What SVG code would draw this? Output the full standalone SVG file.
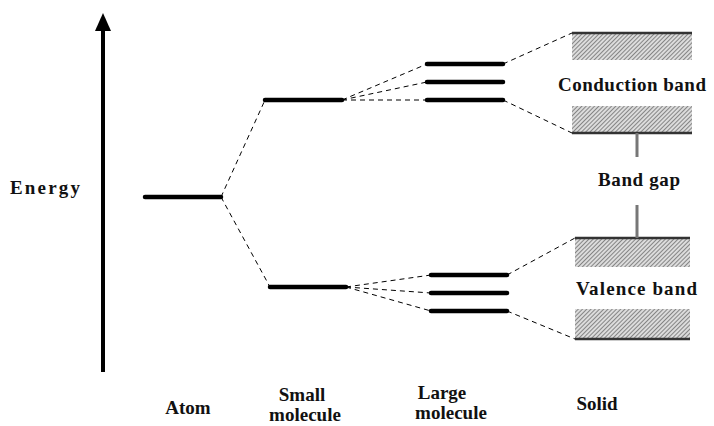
<svg xmlns="http://www.w3.org/2000/svg" width="714" height="426" viewBox="0 0 714 426">
<defs>
<pattern id="hatch" width="3" height="3" patternUnits="userSpaceOnUse" patternTransform="rotate(45)">
<rect width="3" height="3" fill="#dcdcdc"/>
<line x1="0" y1="0" x2="0" y2="3" stroke="#606060" stroke-width="1.4"/>
</pattern>
</defs>
<style>
.lvl{stroke:#000;stroke-width:4.5;stroke-linecap:round}
.d{stroke:#000;stroke-width:1;stroke-dasharray:5,4;fill:none}
.band{fill:url(#hatch)}
.edge{stroke:#333;stroke-width:2.5}
.gap{stroke:#777;stroke-width:3}
</style>
<rect width="714" height="426" fill="#fff"/>
<g font-family="Liberation Serif" font-weight="bold" font-size="19" fill="#111">
<g id="axis">
<line x1="103" y1="372" x2="103" y2="28" stroke="#000" stroke-width="4"/>
<polygon points="103,13 95,31 111,31" fill="#000"/>
<text x="10" y="194" textLength="70" lengthAdjust="spacing">Energy</text>
</g>
<g id="atom">
<line class="lvl" x1="145" y1="197" x2="221" y2="197"/>
<text x="188" y="414" text-anchor="middle">Atom</text>
</g>
<g id="small-molecule">
<line class="lvl" x1="265" y1="100" x2="342" y2="100"/>
<line class="lvl" x1="270" y1="287" x2="346" y2="287"/>
<text x="302" y="401" text-anchor="middle">Small</text>
<text x="305" y="421" text-anchor="middle">molecule</text>
</g>
<g id="large-molecule">
<line class="lvl" x1="427" y1="64" x2="503" y2="64"/>
<line class="lvl" x1="427" y1="82" x2="503" y2="82"/>
<line class="lvl" x1="427" y1="100" x2="503" y2="100"/>
<line class="lvl" x1="431" y1="275" x2="507" y2="275"/>
<line class="lvl" x1="431" y1="293" x2="507" y2="293"/>
<line class="lvl" x1="431" y1="311" x2="507" y2="311"/>
<text x="442" y="399" text-anchor="middle">Large</text>
<text x="451" y="419" text-anchor="middle">molecule</text>
</g>
<g id="solid">
<rect class="band" x="572" y="33" width="120" height="27"/>
<line class="edge" x1="572" y1="33" x2="692" y2="33"/>
<rect class="band" x="572" y="106" width="120" height="27"/>
<line class="edge" x1="572" y1="133" x2="692" y2="133"/>
<rect class="band" x="575" y="238" width="115" height="29"/>
<line class="edge" x1="575" y1="238" x2="690" y2="238"/>
<rect class="band" x="575" y="309" width="115" height="30"/>
<line class="edge" x1="575" y1="339" x2="690" y2="339"/>
<line class="gap" x1="637" y1="133" x2="637" y2="157"/>
<line class="gap" x1="637" y1="205" x2="637" y2="238"/>
<text x="558" y="91" textLength="148" lengthAdjust="spacing">Conduction band</text>
<text x="598" y="186" textLength="82" lengthAdjust="spacing">Band gap</text>
<text x="576" y="295" textLength="121" lengthAdjust="spacing">Valence band</text>
<text x="597" y="410" text-anchor="middle">Solid</text>
</g>
</g>
<g id="connectors">
<line class="d" x1="221" y1="197" x2="265" y2="100"/>
<line class="d" x1="221" y1="197" x2="270" y2="287"/>
<line class="d" x1="342" y1="100" x2="427" y2="64"/>
<line class="d" x1="342" y1="100" x2="427" y2="82"/>
<line class="d" x1="342" y1="100" x2="427" y2="100"/>
<line class="d" x1="346" y1="287" x2="431" y2="275"/>
<line class="d" x1="346" y1="287" x2="431" y2="293"/>
<line class="d" x1="346" y1="287" x2="431" y2="311"/>
<line class="d" x1="503" y1="64" x2="572" y2="33"/>
<line class="d" x1="503" y1="100" x2="572" y2="133"/>
<line class="d" x1="507" y1="275" x2="575" y2="238"/>
<line class="d" x1="507" y1="311" x2="575" y2="339"/>
</g>
</svg>
